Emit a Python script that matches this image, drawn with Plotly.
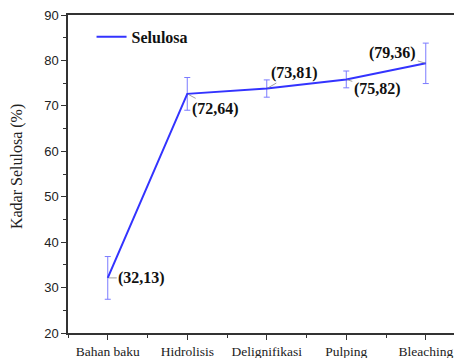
import plotly.graph_objects as go

categories = ["Bahan baku", "Hidrolisis", "Delignifikasi", "Pulping", "Bleaching"]
values = [32.13, 72.64, 73.81, 75.82, 79.36]
errors = [4.7, 3.6, 1.9, 1.85, 4.45]
labels = ["(32,13)", "(72,64)", "(73,81)", "(75,82)", "(79,36)"]
label_offsets = [(34, 0), (28, 15), (28, -16), (31, 10), (-33, -10)]
y_ticks = [20, 30, 40, 50, 60, 70, 80, 90]

x = list(range(len(categories)))
serif = "Liberation Serif"
sans = "Liberation Sans"

fig = go.Figure()
fig.add_trace(go.Scatter(
    x=x, y=values, mode="lines", name="Selulosa",
    line=dict(color="#3333ff", width=2),
    error_y=dict(type="data", array=errors, visible=True,
                 color="#7b7bff", thickness=1, width=3),
))

for xi, v, t, (ax, ay) in zip(x, values, labels, label_offsets):
    fig.add_annotation(x=xi, y=v, text="<b>" + t + "</b>", showarrow=True,
                       ax=ax, ay=ay, arrowhead=0, arrowwidth=0.8,
                       arrowcolor="#888888", standoff=1,
                       font=dict(family=serif, size=16, color="#111111"))

fig.add_annotation(xref="paper", yref="paper", x=-0.132, y=0.522,
                   xanchor="center", yanchor="middle",
                   text="Kadar Selulosa (%)", textangle=-90, showarrow=False,
                   font=dict(family=serif, size=16, color="#222222"))

fig.update_layout(
    width=454, height=358,
    margin=dict(l=68, r=0, t=15, b=25),
    paper_bgcolor="white", plot_bgcolor="white",
    showlegend=True,
    legend=dict(x=0.061, y=0.985, xanchor="left", yanchor="top",
                bgcolor="rgba(0,0,0,0)",
                font=dict(family=serif, size=16, color="#111111", weight="bold")),
)
fig.update_xaxes(
    range=[-0.5, 4.355], tickvals=x, ticktext=categories, automargin=False,
    ticklabeloverflow="allow",
    showline=True, linecolor="#333333", linewidth=1.5, mirror=True,
    ticks="outside", ticklen=5, tickcolor="#333333", tickwidth=1,
    minor=dict(tickvals=[-0.5, 0.5, 1.5, 2.5, 3.5], ticks="outside", ticklen=3, tickcolor="#333333"),
    showgrid=False, zeroline=False,
    tickfont=dict(family=serif, size=13.5, color="#222222"),
)
fig.update_yaxes(
    range=[20, 90], tickvals=y_ticks, automargin=False,
    ticklabeloverflow="allow",
    showline=True, linecolor="#333333", linewidth=1.5,
    ticks="outside", ticklen=5, tickcolor="#333333", tickwidth=1,
    minor=dict(dtick=5, ticks="outside", ticklen=3, tickcolor="#333333"),
    showgrid=False, zeroline=False,
    tickfont=dict(family=sans, size=13, color="#222222"),
)

fig.write_html("out.html", config={"displayModeBar": False},
               post_script="document.body.style.margin='0';document.body.style.overflow='hidden';")
